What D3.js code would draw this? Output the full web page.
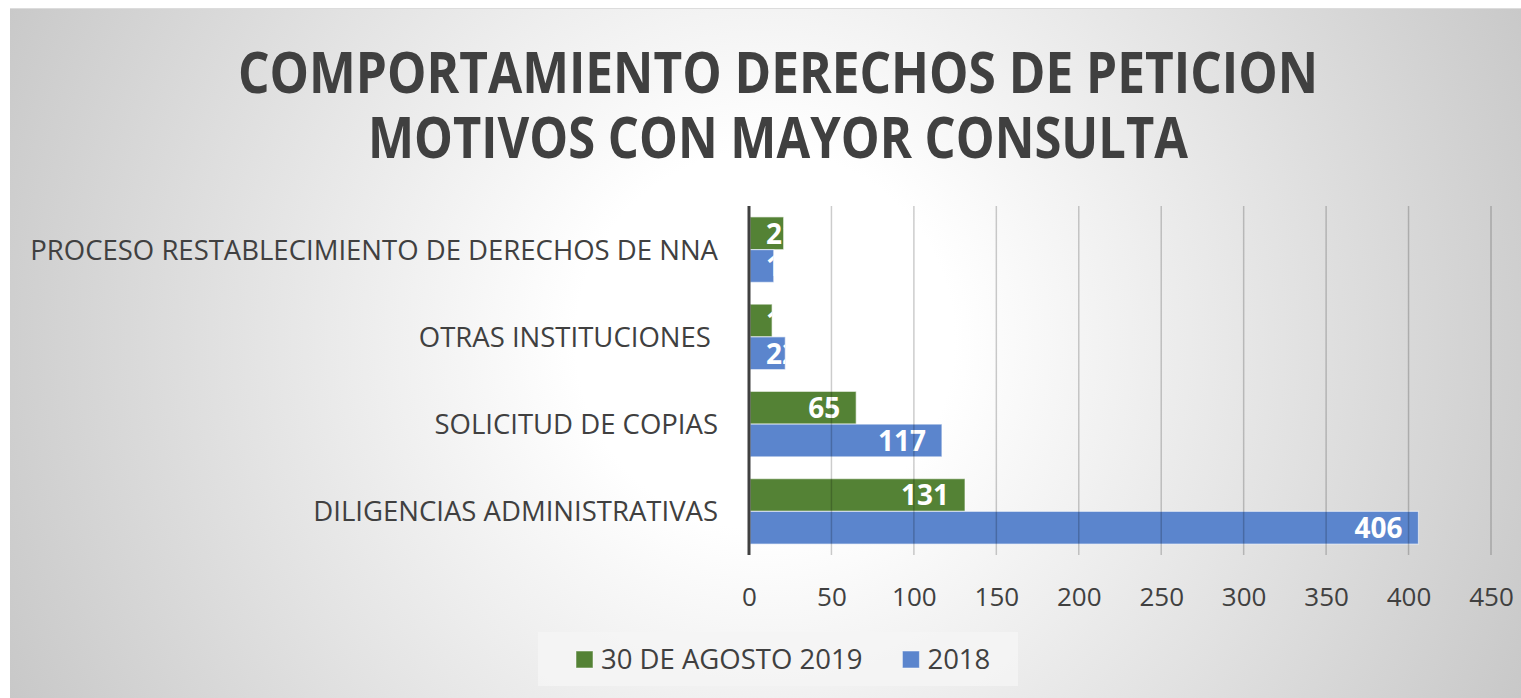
<!DOCTYPE html>
<html>
<head>
<meta charset="utf-8">
<script src="https://cdn.jsdelivr.net/npm/d3@7"></script>
<style>
  body { margin: 0; background: #fff; }
  svg { display: block; }
  text { font-family: "Open Sans", "Noto Sans", sans-serif; }
</style>
</head>
<body>
<svg width="1521" height="698"></svg>
<script>
const categories = [
  "PROCESO RESTABLECIMIENTO DE DERECHOS DE NNA",
  "OTRAS INSTITUCIONES ",
  "SOLICITUD DE COPIAS",
  "DILIGENCIAS ADMINISTRATIVAS"
];
const seriesNames = ["30 DE AGOSTO 2019", "2018"];
const values2019 = [21, 14, 65, 131];
const values2018 = [15, 22, 117, 406];
const xTicks = [0, 50, 100, 150, 200, 250, 300, 350, 400, 450];
const titleLines = ["COMPORTAMIENTO DERECHOS DE PETICION", "MOTIVOS CON MAYOR CONSULTA"];

const colors = ["#548235", "#5b85cd"];
const rows = categories.map((c, i) => ({ cat: c, vals: [values2019[i], values2018[i]] }));

const svg = d3.select("svg");
const defs = svg.append("defs");

// background
const grad = defs.append("radialGradient")
  .attr("id", "bg")
  .attr("gradientUnits", "userSpaceOnUse")
  .attr("cx", 765).attr("cy", 340).attr("r", 860);
grad.append("stop").attr("offset", 0).attr("stop-color", "#ffffff");
grad.append("stop").attr("offset", 0.22).attr("stop-color", "#ffffff");
grad.append("stop").attr("offset", 1).attr("stop-color", "#c6c6c6");

svg.append("rect")
  .attr("x", 10).attr("y", 8).attr("width", 1511).attr("height", 690)
  .attr("fill", "url(#bg)");
svg.append("line")
  .attr("x1", 10).attr("x2", 1521).attr("y1", 8.5).attr("y2", 8.5)
  .attr("stroke", "#dcdcdc");

// title
svg.append("g").selectAll("text")
  .data(titleLines)
  .join("text")
  .attr("x", 778)
  .attr("y", (d, i) => 93 + i * 65)
  .attr("text-anchor", "middle")
  .attr("font-size", 58)
  .attr("font-weight", 700)
  .attr("fill", "#404040")
  .attr("textLength", (d, i) => i === 0 ? 1080 : 820)
  .attr("lengthAdjust", "spacingAndGlyphs")
  .text(d => d);

// scales
const x = d3.scaleLinear().domain([0, 450]).range([749, 1491]);
const y = d3.scaleBand().domain(categories).range([206, 555])
  .paddingInner(0.25).paddingOuter(0.125);
const ySub = d3.scaleBand().domain([0, 1]).range([0, y.bandwidth()]);

// category labels
const yAxis = svg.append("g")
  .attr("transform", `translate(${x(0)},0)`)
  .call(d3.axisLeft(y).tickSize(0).tickPadding(31));
yAxis.select(".domain").remove();
yAxis.selectAll("text")
  .attr("font-family", "Open Sans")
  .attr("font-size", 27.5)
  .attr("fill", "#404040")
  .attr("dy", "0.36em")
  .style("white-space", "pre");

// bars
const groups = svg.append("g").selectAll("g")
  .data(rows)
  .join("g")
  .attr("transform", d => `translate(0,${y(d.cat)})`);

groups.each(function(d, ci) {
  const g = d3.select(this);
  d.vals.forEach((v, si) => {
    const id = `clip-${ci}-${si}`;
    const bx = x(0) + 1, by = ySub(si), bw = x(v) - x(0) - 1, bh = ySub.bandwidth();
    defs.append("clipPath").attr("id", id)
      .append("rect").attr("x", bx).attr("y", y(d.cat) + by).attr("width", bw).attr("height", bh);
    g.append("rect")
      .attr("x", bx).attr("y", by).attr("width", bw).attr("height", bh)
      .attr("fill", colors[si])
      .attr("stroke", "rgba(255,255,255,0.55)")
      .attr("stroke-width", 1.2);
    const t = svg.append("text")
      .attr("clip-path", `url(#${id})`)
      .attr("y", y(d.cat) + by + bh / 2)
      .attr("dy", "0.37em")
      .attr("font-size", 28)
      .attr("font-weight", 700)
      .attr("fill", "#ffffff")
      .text(v);
    const w = t.node().getComputedTextLength();
    t.attr("x", Math.max(x(v) - 16 - w, x(0) + 17));
  });
});

// gridlines (drawn over bars, translucent)
svg.append("g").selectAll("line")
  .data(xTicks.slice(1))
  .join("line")
  .attr("x1", d => x(d)).attr("x2", d => x(d))
  .attr("y1", 206).attr("y2", 555)
  .attr("stroke", "#000")
  .attr("stroke-opacity", 0.2)
  .attr("stroke-width", 1.5);

// value axis line
svg.append("line")
  .attr("x1", x(0)).attr("x2", x(0))
  .attr("y1", 206).attr("y2", 555)
  .attr("stroke", "#404040")
  .attr("stroke-width", 3);

// x tick labels
const xAxis = svg.append("g")
  .attr("transform", "translate(0,585)")
  .call(d3.axisBottom(x).tickValues(xTicks).tickSize(0).tickPadding(0));
xAxis.select(".domain").remove();
xAxis.selectAll("text")
  .attr("font-family", "Open Sans")
  .attr("font-size", 26)
  .attr("fill", "#404040")
  .attr("dy", "0.8em");

// legend
const legend = svg.append("g");
legend.append("rect")
  .attr("x", 538).attr("y", 632).attr("width", 480).attr("height", 54)
  .attr("fill", "#f4f4f4").attr("fill-opacity", 0.85);
let lx = 576;
seriesNames.forEach((name, i) => {
  legend.append("rect")
    .attr("x", lx).attr("y", 651).attr("width", 17).attr("height", 17)
    .attr("fill", colors[i])
    .attr("stroke", "rgba(255,255,255,0.5)");
  const t = legend.append("text")
    .attr("x", lx + 25).attr("y", 669)
    .attr("font-size", 27.5)
    .attr("fill", "#404040")
    .text(name);
  lx += 25 + t.node().getComputedTextLength() + 40;
});
</script>
</body>
</html>
